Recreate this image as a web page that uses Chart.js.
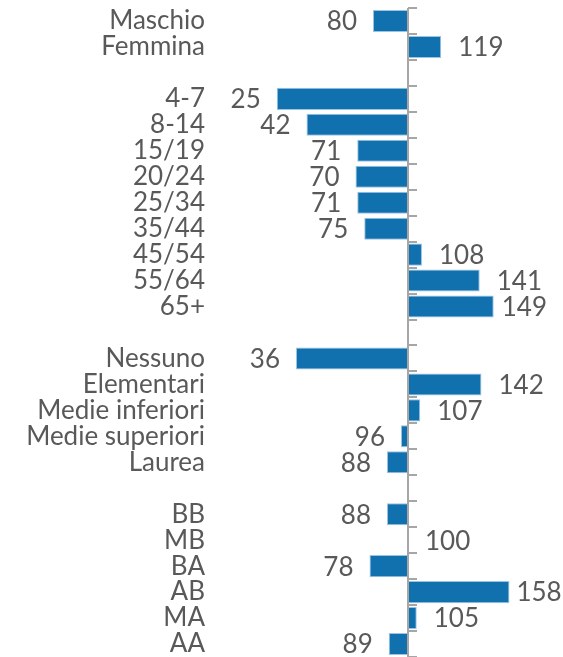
<!DOCTYPE html>
<html>
<head>
<meta charset="utf-8">
<script src="https://cdn.jsdelivr.net/npm/chart.js@4/dist/chart.umd.min.js"></script>
<style>
  html, body { margin: 0; padding: 0; background: #fff; }
</style>
</head>
<body>
<canvas id="chart" width="563" height="657"></canvas>
<script>
// Categories (blank entries are the gaps between groups)
const categories = ['Maschio', 'Femmina', '',
    '4-7', '8-14', '15/19', '20/24', '25/34', '35/44', '45/54', '55/64', '65+', '',
    'Nessuno', 'Elementari', 'Medie inferiori', 'Medie superiori', 'Laurea', '',
    'BB', 'MB', 'BA', 'AB', 'MA', 'AA'];

// Index values (base 100)
const values = [80, 119, null,
    25, 42, 71, 70, 71, 75, 108, 141, 149, null,
    36, 142, 107, 96, 88, null,
    88, 100, 78, 158, 105, 89];

const baseline = 100;

const textColor = '#595959';
const labelFont = '26px Lato';

// Floating bars from the baseline to each value
let barData = values.map((v) => v === null ? null : [baseline, v]);

// Labels that sit closer to their bar in the original (index -> gap)
const tightLabels = { 11: 8, 22: 7 };

// Draws the centre axis with its ticks and the value labels
const centreAxis = {
    id: 'centreAxis',
    afterDatasetsDraw(chart) {
        const ctx = chart.ctx;
        const xs = chart.scales.x;
        const ys = chart.scales.y;
        const area = chart.chartArea;
        const x0 = Math.round(xs.getPixelForValue(baseline));
        const step = (area.bottom - area.top) / categories.length;

        ctx.save();
        ctx.strokeStyle = '#A6A6A6';
        ctx.lineWidth = 2;
        ctx.beginPath();
        ctx.moveTo(x0, area.top);
        ctx.lineTo(x0, chart.height);
        for (let i = 0; i <= categories.length; i++) {
            let y = Math.round(area.top + i * step);
            ctx.moveTo(x0, y);
            ctx.lineTo(x0 + 9, y);
        }
        ctx.stroke();

        ctx.fillStyle = textColor;
        ctx.font = labelFont;
        ctx.textBaseline = 'middle';
        values.forEach((v, i) => {
            if (v === null) return;
            let y = ys.getPixelForValue(i);
            let xv = xs.getPixelForValue(v);
            let gap = tightLabels[i] !== undefined ? tightLabels[i] : 17;
            if (v < baseline) {
                ctx.textAlign = 'right';
                ctx.fillText(String(v), xv - 16, y + 1);
            } else {
                ctx.textAlign = 'left';
                ctx.fillText(String(v), xv + gap, y + 1);
            }
        });
        ctx.restore();
    }
};

new Chart(document.getElementById('chart'), {
    type: 'bar',
    data: {
        labels: categories,
        datasets: [{
            data: barData,
            backgroundColor: '#1170AE',
            borderColor: '#9CC3E3',
            borderWidth: 1,
            borderSkipped: false,
            barPercentage: 0.85,
            categoryPercentage: 1
        }]
    },
    options: {
        indexAxis: 'y',
        responsive: false,
        animation: false,
        layout: {
            padding: { top: 8, bottom: 0, left: 0, right: 0 }
        },
        plugins: {
            legend: { display: false },
            tooltip: { enabled: false }
        },
        scales: {
            x: {
                display: false,
                min: -10.3,
                max: 188.6
            },
            y: {
                afterFit(scale) {
                    scale.width = 215;
                    scale.paddingTop = 0;
                    scale.paddingBottom = 0;
                },
                grid: { display: false, drawTicks: false },
                border: { display: false },
                ticks: {
                    autoSkip: false,
                    padding: 10,
                    color: textColor,
                    font: { family: 'Lato', size: 26 }
                }
            }
        }
    },
    plugins: [centreAxis]
});
</script>
</body>
</html>
